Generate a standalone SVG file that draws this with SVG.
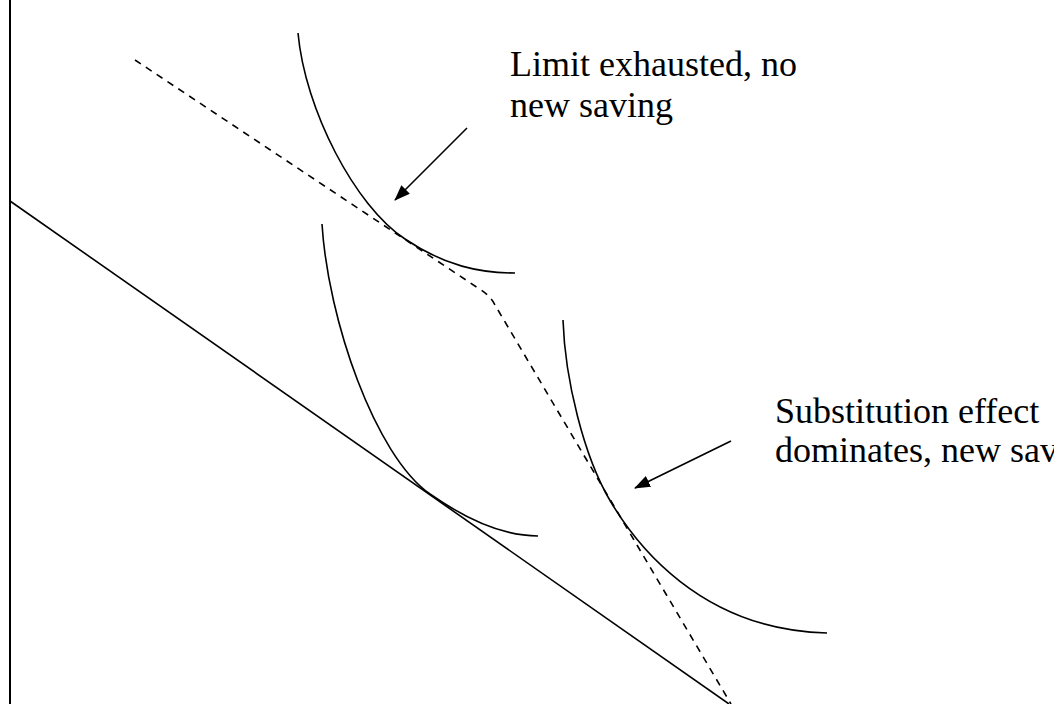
<svg xmlns="http://www.w3.org/2000/svg" width="1054" height="704" viewBox="0 0 1054 704">
<style>
.ln{fill:none;stroke:#000;stroke-width:1.6}
.dash{fill:none;stroke:#000;stroke-width:1.6;stroke-dasharray:7 6}
.lbl{font-family:"Liberation Serif","Times New Roman",serif;font-size:36px;fill:#000}
</style>
<defs>
<marker id="ah" viewBox="0 0 16 12" refX="15" refY="6" markerWidth="16" markerHeight="12" markerUnits="userSpaceOnUse" orient="auto">
<path d="M0,0 L16,6 L0,12 Z" fill="#000"/>
</marker>
</defs>
<rect width="1054" height="704" fill="#fff"/>
<g id="axis"><line class="ln" x1="10" y1="0" x2="10" y2="704" style="stroke-width:2"/></g>
<g id="budget-line"><line class="ln" x1="10" y1="201" x2="729" y2="704"/></g>
<g id="dashed-budget"><path class="dash" d="M135,60 L478,288 Q490,295 495,305 L731,704"/></g>
<g id="curve-top"><path class="ln" d="M298,33 C305,110 355,206 405,239 C445,266 480,273 515,273"/></g>
<g id="curve-middle"><path class="ln" d="M322,224 C328,320 375,455.5 430,494 C470,522 505,536 538,536"/></g>
<g id="curve-right"><path class="ln" d="M563,320 C565,380 584,456.4 610,500.5 C635,543 700,630 827,633"/></g>
<g id="label-limit">
<text class="lbl" x="510" y="76">Limit exhausted, no</text>
<text class="lbl" x="510" y="117">new saving</text>
</g>
<g id="label-substitution">
<text class="lbl" x="775" y="423">Substitution effect</text>
<text class="lbl" x="775" y="462">dominates, new saving</text>
</g>
<g id="connectors">
<line class="ln" x1="467" y1="128" x2="395" y2="200" marker-end="url(#ah)"/>
<line class="ln" x1="731" y1="441" x2="635" y2="488" marker-end="url(#ah)"/>
</g>
</svg>
